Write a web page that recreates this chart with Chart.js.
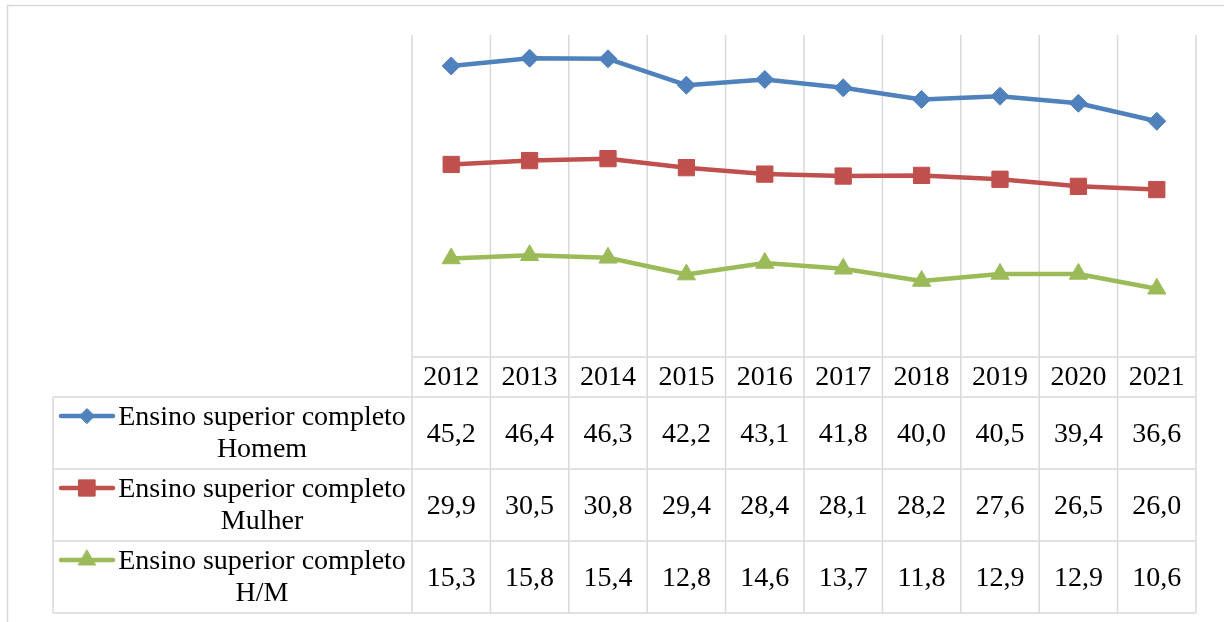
<!DOCTYPE html>
<html><head><meta charset="utf-8">
<script src="https://cdn.jsdelivr.net/npm/chart.js@4.4.1/dist/chart.umd.min.js"></script>
<style>html,body{margin:0;padding:0;background:#fff}#wrap{width:1224px;height:622px;position:relative}</style>
</head><body><div id="wrap"><canvas id="c"></canvas></div>
<script>
const categories = ['2012','2013','2014','2015','2016','2017','2018','2019','2020','2021'];
const homem  = [45.2, 46.4, 46.3, 42.2, 43.1, 41.8, 40.0, 40.5, 39.4, 36.6];
const mulher = [29.9, 30.5, 30.8, 29.4, 28.4, 28.1, 28.2, 27.6, 26.5, 26.0];
const razaoHM = [15.3, 15.8, 15.4, 12.8, 14.6, 13.7, 11.8, 12.9, 12.9, 10.6];
const seriesTitle = 'Ensino superior completo';
const seriesSub = ['Homem', 'Mulher', 'H/M'];
const yMin = 0, yMax = 50;

const GRID = '#d9d9d9';
const FONT = '28px "Liberation Serif", "Times New Roman", serif';
const legendRadius = [7.5, 11.5, 10];

function fmt(v){ return v.toFixed(1).replace('.', ','); }

const tablePlugin = {
  id: 'excelTable',
  beforeDatasetsDraw(chart) {
    const ctx = chart.ctx, a = chart.chartArea, x = chart.scales.x;
    const n = chart.data.labels.length;
    const half = (x.getPixelForValue(1) - x.getPixelForValue(0)) / 2;
    const headerBottom = a.bottom + 40;
    const rowH = 72;
    const ds = chart.data.datasets;
    const tableBottom = headerBottom + rowH * ds.length;
    const labelLeft = 53;
    ctx.save();
    ctx.strokeStyle = GRID; ctx.lineWidth = 1.5;
    ctx.strokeRect(7.5, 5.5, chart.width + 40, chart.height + 40);
    ctx.beginPath();
    for (let i = 0; i <= n; i++) {
      const px = i < n ? x.getPixelForValue(i) - half : x.getPixelForValue(n - 1) + half;
      ctx.moveTo(px, a.top); ctx.lineTo(px, tableBottom);
    }
    ctx.moveTo(a.left, a.bottom); ctx.lineTo(a.right, a.bottom);
    for (let r = 0; r <= ds.length; r++) {
      const y = headerBottom + r * rowH;
      ctx.moveTo(labelLeft, y); ctx.lineTo(a.right, y);
    }
    ctx.moveTo(labelLeft, headerBottom); ctx.lineTo(labelLeft, tableBottom);
    ctx.stroke();

    ctx.fillStyle = '#000';
    ctx.font = FONT;
    ctx.textAlign = 'center';
    ctx.textBaseline = 'alphabetic';
    chart.data.labels.forEach((lab, i) => {
      ctx.fillText(lab, x.getPixelForValue(i), a.bottom + 28);
    });
    ds.forEach((d, r) => {
      const top = headerBottom + r * rowH;
      ctx.fillStyle = '#000';
      d.data.forEach((v, i) => ctx.fillText(fmt(v), x.getPixelForValue(i), top + 45));
      ctx.fillText(seriesTitle, 262, top + 28);
      ctx.fillText(seriesSub[r], 262, top + 60);
      // legend key
      const ky = top + 19;
      ctx.strokeStyle = d.borderColor; ctx.lineWidth = 4.5; ctx.lineCap = 'round';
      ctx.beginPath(); ctx.moveTo(61, ky); ctx.lineTo(113, ky); ctx.stroke();
      ctx.fillStyle = d.backgroundColor; ctx.strokeStyle = d.borderColor; ctx.lineWidth = 1;
      Chart.helpers.drawPoint(ctx, {pointStyle: d.pointStyle, radius: legendRadius[r], rotation: 0, borderWidth: 1}, 87, ky);
    });
    ctx.restore();
  }
};

new Chart(document.getElementById('c'), {
  type: 'line',
  data: {
    labels: categories,
    datasets: [
      {label: seriesTitle + ' ' + seriesSub[0], data: homem, borderColor: '#4f81bd', backgroundColor: '#4f81bd',
       pointStyle: 'rectRot', pointRadius: 9, borderWidth: 4.5, pointBorderWidth: 1},
      {label: seriesTitle + ' ' + seriesSub[1], data: mulher, borderColor: '#c0504d', backgroundColor: '#c0504d',
       pointStyle: 'rect', pointRadius: 11.5, borderWidth: 4.5, pointBorderWidth: 1},
      {label: seriesTitle + ' ' + seriesSub[2], data: razaoHM, borderColor: '#9bbb59', backgroundColor: '#9bbb59',
       pointStyle: 'triangle', pointRadius: 10.5, borderWidth: 4.5, pointBorderWidth: 1}
    ]
  },
  options: {
    responsive: true, maintainAspectRatio: false, animation: false,
    layout: {padding: {left: 412, right: 28, top: 35, bottom: 265}},
    plugins: {legend: {display: false}, tooltip: {enabled: false}},
    elements: {line: {tension: 0, borderCapStyle: 'round', borderJoinStyle: 'round'}},
    scales: {
      x: {type: 'category', offset: true, display: false},
      y: {min: yMin, max: yMax, display: false}
    }
  },
  plugins: [tablePlugin]
});
</script></body></html>
